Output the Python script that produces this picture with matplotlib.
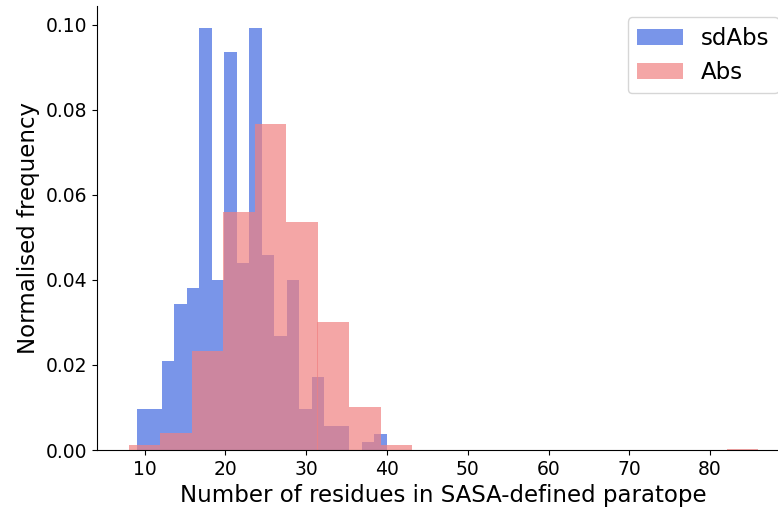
import numpy as np
import matplotlib
matplotlib.use("Agg")
import matplotlib.pyplot as plt

# sdAbs: 20 bins between 9 and 40, counts
sdabs_range = (9, 40)
sdabs_counts = [5, 5, 11, 18, 20, 52, 21, 49, 23, 52,
                24, 14, 21, 5, 9, 3, 3, 0, 1, 2]

# Abs: 20 bins between 8 and 86
abs_range = (8, 86)
abs_counts = [5, 16, 91, 218, 299, 209, 117, 39, 5, 0,
              0, 0, 0, 0, 0, 0, 0, 0, 0, 1]

labels = ["sdAbs", "Abs"]


def hist_input(counts, rng):
    edges = np.linspace(rng[0], rng[1], len(counts) + 1)
    centers = (edges[:-1] + edges[1:]) / 2
    return centers, edges, np.array(counts, dtype=float)


fig = plt.figure(figsize=(7.78, 5.13), dpi=100)
# the original picture is cropped on the right, so the axes run past the edge
ax = fig.add_axes([97 / 778, 63 / 513, 693 / 778, 444 / 513])

c, e, w = hist_input(sdabs_counts, sdabs_range)
ax.hist(c, bins=e, weights=w, density=True, color="royalblue", alpha=0.7, label=labels[0])
c, e, w = hist_input(abs_counts, abs_range)
ax.hist(c, bins=e, weights=w, density=True, color="lightcoral", alpha=0.7, label=labels[1])

ax.set_xlim(4.1, 89.9)
ax.set_ylim(0, 0.1044)
ax.set_yticks([0, 0.02, 0.04, 0.06, 0.08, 0.10])
ax.set_yticklabels(["0.00", "0.02", "0.04", "0.06", "0.08", "0.10"])
ax.tick_params(labelsize=13.5)
ax.spines["top"].set_visible(False)
ax.spines["right"].set_visible(False)

ax.set_xlabel("Number of residues in SASA-defined paratope", fontsize=16.5)
ax.set_ylabel("Normalised frequency", fontsize=16.5)
ax.legend(fontsize=16.5, loc="upper right")

fig.savefig("out.png", dpi=100)
